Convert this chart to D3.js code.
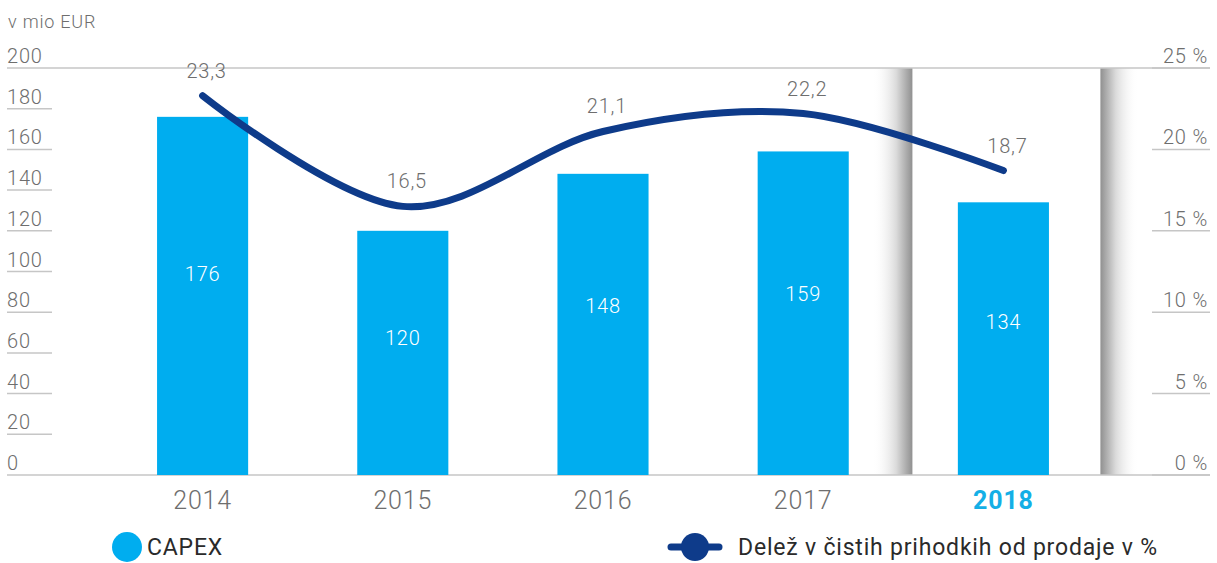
<!DOCTYPE html>
<html>
<head>
<meta charset="utf-8">
<script src="https://cdn.jsdelivr.net/npm/d3@7"></script>
<style>
  body { margin: 0; background: #fff; }
  svg text { font-family: Roboto, "DejaVu Sans", sans-serif; font-weight: 300; letter-spacing: 0.8px; }
  svg text.legend { font-weight: 400; }
</style>
</head>
<body>
<svg id="chart" width="1217" height="563"></svg>
<script>
/* ------------------------- DATA ------------------------- */
var years = ["2014", "2015", "2016", "2017", "2018"]
var capex = [176, 120, 148, 159, 134]
var share = [23.3, 16.5, 21.1, 22.2, 18.7]
var leftTicks = [0, 20, 40, 60, 80, 100, 120, 140, 160, 180, 200]
var rightTicks = [0, 5, 10, 15, 20, 25]
var highlightYear = "2018"

var barColor = "#00adef"
var lineColor = "#0e3b8a"
var gridColor = "#c6c6c6"
var textGray = "#6e6e6e"

var svg = d3.select("#chart")

/* ------------------------- SCALES ------------------------- */
var x = d3.scaleBand().domain(years).range([103, 1103]).paddingInner(0.545).paddingOuter(0.27)
var yL = d3.scaleLinear().domain([0, 200]).range([475, 68])
var yR = d3.scaleLinear().domain([0, 25]).range([475, 68])
var cx = function (d) { return x(d) + x.bandwidth() / 2 }
var fmt = function (v) { return String(v).replace(".", ",") }

/* --------------------- HIGHLIGHT SHADOWS --------------------- */
var defs = svg.append("defs")
var gl = defs.append("linearGradient").attr("id", "shL").attr("x1", 0).attr("x2", 1)
gl.append("stop").attr("offset", 0).attr("stop-color", "#fff").attr("stop-opacity", 0)
gl.append("stop").attr("offset", 0.6).attr("stop-color", "#dadada")
gl.append("stop").attr("offset", 1).attr("stop-color", "#909090")
var gr = defs.append("linearGradient").attr("id", "shR").attr("x1", 1).attr("x2", 0)
gr.append("stop").attr("offset", 0).attr("stop-color", "#fff").attr("stop-opacity", 0)
gr.append("stop").attr("offset", 0.6).attr("stop-color", "#dadada")
gr.append("stop").attr("offset", 1).attr("stop-color", "#909090")

var hx = cx(highlightYear)
svg.append("rect").attr("x", hx - 91 - 40).attr("y", yL(200)).attr("width", 40)
    .attr("height", yL(0) - yL(200)).attr("fill", "url(#shL)")
svg.append("rect").attr("x", hx + 97).attr("y", yL(200)).attr("width", 38)
    .attr("height", yL(0) - yL(200)).attr("fill", "url(#shR)")

/* ------------------------- AXES ------------------------- */
svg.append("text").attr("x", 8).attr("y", 28).attr("font-size", 18).attr("fill", textGray).text("v mio EUR")

var lt = svg.append("g").selectAll("g").data(leftTicks).enter().append("g")
lt.append("line")
    .attr("x1", 7)
    .attr("x2", function (d) { return (d == 0 || d == 200) ? 1210 : 52 })
    .attr("y1", function (d) { return yL(d) }).attr("y2", function (d) { return yL(d) })
    .attr("stroke", gridColor).attr("stroke-width", 1.5)
lt.append("text").attr("x", 7).attr("y", function (d) { return yL(d) - 5 })
    .attr("font-size", 20).attr("fill", textGray).text(function (d) { return d })

var rt = svg.append("g").selectAll("g").data(rightTicks).enter().append("g")
rt.append("line").attr("x1", 1152).attr("x2", 1210)
    .attr("y1", function (d) { return yR(d) }).attr("y2", function (d) { return yR(d) })
    .attr("stroke", gridColor).attr("stroke-width", 1.5)
rt.append("text").attr("x", 1208).attr("y", function (d) { return yR(d) - 5 })
    .attr("text-anchor", "end").attr("font-size", 20).attr("fill", textGray)
    .text(function (d) { return d + " %" })

/* ------------------------- BARS ------------------------- */
var bars = svg.append("g").selectAll("g").data(years).enter().append("g")
bars.append("rect")
    .attr("x", function (d) { return x(d) })
    .attr("width", x.bandwidth())
    .attr("y", function (d, i) { return yL(capex[i]) })
    .attr("height", function (d, i) { return yL(0) - yL(capex[i]) })
    .attr("fill", barColor)
bars.append("text")
    .attr("x", cx)
    .attr("y", function (d, i) { return yL(capex[i] * 0.56) + 7 })
    .attr("text-anchor", "middle").attr("font-size", 20).attr("fill", "#fff")
    .text(function (d, i) { return capex[i] })

svg.append("g").selectAll("text").data(years).enter().append("text")
    .attr("x", cx).attr("y", 509).attr("text-anchor", "middle").attr("font-size", 25)
    .style("font-weight", function (d) { return d == highlightYear ? "bold" : "300" })
    .attr("fill", function (d) { return d == highlightYear ? "#14afe6" : textGray })
    .text(function (d) { return d })

/* ------------------------- LINE ------------------------- */
var line = d3.line()
    .x(function (d, i) { return cx(years[i]) })
    .y(function (d) { return yR(d) })
    .curve(d3.curveCardinal.tension(0))
svg.append("path").datum(share).attr("d", line)
    .attr("fill", "none").attr("stroke", lineColor).attr("stroke-width", 7)
    .attr("stroke-linecap", "round")

svg.append("g").selectAll("text").data(share).enter().append("text")
    .attr("x", function (d, i) { return cx(years[i]) + 4 })
    .attr("y", function (d) { return yR(d) - 18 })
    .attr("text-anchor", "middle").attr("font-size", 20).attr("fill", textGray)
    .text(fmt)

/* ------------------------- LEGEND ------------------------- */
var leg = svg.append("g")
leg.append("circle").attr("cx", 127).attr("cy", 547).attr("r", 15).attr("fill", barColor)
leg.append("text").attr("class", "legend").attr("x", 147).attr("y", 555).attr("font-size", 23)
    .attr("fill", "#2a2a2a").text("CAPEX")
leg.append("line").attr("x1", 671).attr("x2", 719).attr("y1", 547).attr("y2", 547)
    .attr("stroke", lineColor).attr("stroke-width", 7).attr("stroke-linecap", "round")
leg.append("circle").attr("cx", 695).attr("cy", 547).attr("r", 14).attr("fill", lineColor)
leg.append("text").attr("class", "legend").attr("x", 738).attr("y", 555).attr("font-size", 23)
    .attr("fill", "#2a2a2a").text("Delež v čistih prihodkih od prodaje v %")
</script>
</body>
</html>
